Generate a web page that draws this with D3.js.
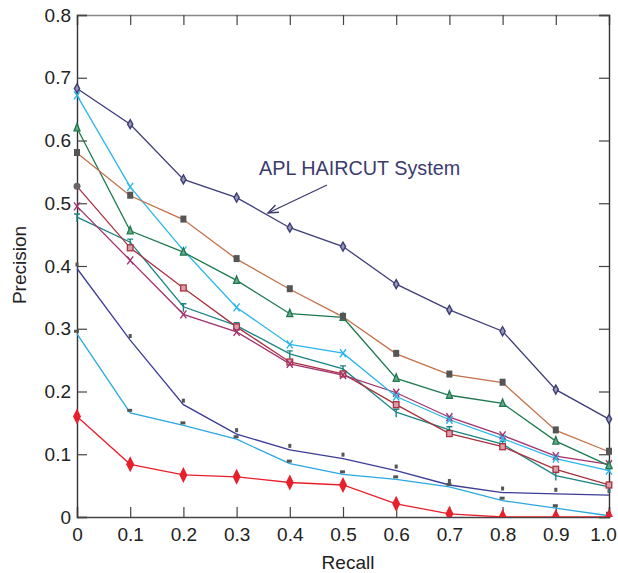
<!DOCTYPE html>
<html>
<head>
<meta charset="utf-8">
<script src="https://cdn.jsdelivr.net/npm/d3@7"></script>
<style>
  body { margin: 0; background: #fff; }
  svg { display: block; font-family: "Liberation Sans", Arial, sans-serif; }
</style>
</head>
<body>
<div id="graph"></div>
<script>
const width = 618;
const height = 573;
const margin = {top: 15, right: 9, bottom: 56, left: 77};

// recall levels on the x axis
const recall = [0, 0.1, 0.2, 0.3, 0.4, 0.5, 0.6, 0.7, 0.8, 0.9, 1.0];
const xTicks = [0, 0.1, 0.2, 0.3, 0.4, 0.5, 0.6, 0.7, 0.8, 0.9, 1.0];
const yTicks = [0, 0.1, 0.2, 0.3, 0.4, 0.5, 0.6, 0.7, 0.8];

// precision per system
const apl     = [0.683, 0.626, 0.538, 0.509, 0.461, 0.431, 0.371, 0.330, 0.296, 0.203, 0.156];
const brown   = [0.580, 0.512, 0.474, 0.411, 0.363, 0.319, 0.260, 0.227, 0.214, 0.138, 0.104];
const green   = [0.620, 0.456, 0.422, 0.377, 0.324, 0.318, 0.221, 0.194, 0.181, 0.121, 0.082];
const cyan    = [0.672, 0.526, 0.425, 0.334, 0.275, 0.261, 0.192, 0.155, 0.125, 0.093, 0.074];
const maroon  = [0.527, 0.429, 0.365, 0.303, 0.247, 0.228, 0.179, 0.133, 0.112, 0.076, 0.051];
const magenta = [0.495, 0.409, 0.323, 0.295, 0.244, 0.226, 0.198, 0.159, 0.130, 0.097, 0.084];
const teal    = [0.478, 0.438, 0.335, 0.305, 0.260, 0.236, 0.167, 0.139, 0.116, 0.066, 0.048];
const indigo  = [0.396, 0.282, 0.179, 0.132, 0.107, 0.093, 0.074, 0.051, 0.039, 0.037, 0.035];
const sky     = [0.292, 0.166, 0.146, 0.124, 0.085, 0.068, 0.060, 0.048, 0.026, 0.014, 0.002];
const red     = [0.160, 0.084, 0.067, 0.064, 0.055, 0.051, 0.021, 0.005, 0.000, 0.000, 0.000];

// drawing order + style (kept apart from the values)
const series = [
  {values: sky,     color: "#2aa8e0", marker: "dash"},
  {values: indigo,  color: "#3c3c98", marker: "tick"},
  {values: red,     color: "#e8202c", marker: "bigdiamond"},
  {values: teal,    color: "#1a8484", marker: "plus"},
  {values: maroon,  color: "#a83240", marker: "osquare"},
  {values: magenta, color: "#a3306e", marker: "x"},
  {values: cyan,    color: "#29b6ec", marker: "x"},
  {values: green,   color: "#1d7a4e", marker: "triangle"},
  {values: brown,   color: "#c2714a", marker: "gsquare"},
  {values: apl,     color: "#3d3d78", marker: "diamond"}
];

const w = width - margin.left - margin.right;
const h = height - margin.top - margin.bottom;

const x = d3.scaleLinear().domain([0, 1]).range([0, w]);
const y = d3.scaleLinear().domain([0, 0.8]).range([h, 0]);

const svg = d3.select("#graph").append("svg")
  .attr("width", width)
  .attr("height", height);

const g = svg.append("g").attr("transform", `translate(${margin.left},${margin.top})`);

g.append("clipPath").attr("id", "clip")
  .append("rect").attr("x", -20).attr("y", -20).attr("width", w + 40).attr("height", h + 20);

const fmt = d => d === 0 ? "0" : d3.format(".1f")(d);

// frame + inward ticks
const axisColor = "#333";
const xAxis = g.append("g").attr("transform", `translate(0,${h})`)
  .call(d3.axisBottom(x).tickValues(xTicks).tickFormat(fmt).tickSize(-10).tickPadding(11))
  .call(a => a.select(".domain").attr("stroke", "#444").attr("stroke-width", 1.4));
g.append("g")
  .call(d3.axisTop(x).tickValues(xTicks).tickFormat("").tickSize(-10))
  .call(a => a.select(".domain").attr("stroke", "#888").attr("stroke-width", 1.4));
g.append("g")
  .call(d3.axisLeft(y).tickValues(yTicks).tickFormat(fmt).tickSize(-10).tickPadding(6))
  .call(a => a.select(".domain").attr("stroke", axisColor).attr("stroke-width", 1.4));
g.append("g").attr("transform", `translate(${w},0)`)
  .call(d3.axisRight(y).tickValues(yTicks).tickFormat("").tickSize(-10))
  .call(a => a.select(".domain").attr("stroke", axisColor).attr("stroke-width", 1.4));

g.selectAll(".tick line").attr("stroke", "#444").attr("stroke-width", 1.2);
g.selectAll(".tick text").attr("font-size", 19).attr("fill", "#222")
  .attr("font-family", "'Liberation Sans', Arial, sans-serif");

// last x label sits against the page edge
xAxis.selectAll(".tick text").filter(d => d === 1).attr("dx", -6);

// lines
const line = d3.line().x((d, i) => x(recall[i])).y(d => y(d));
const plot = g.append("g").attr("clip-path", "url(#clip)");

series.forEach(s => {
  plot.append("path")
    .datum(s.values)
    .attr("fill", "none")
    .attr("stroke", s.color)
    .attr("stroke-width", 1.3)
    .attr("d", line);
});

// markers
function drawMarker(sel, type, color) {
  switch (type) {
    case "diamond":
      sel.append("path").attr("d", "M0,-4.5L2.6,0L0,4.5L-2.6,0Z")
        .attr("fill", "#9a9ab8").attr("stroke", color).attr("stroke-width", 1.4);
      break;
    case "gsquare":
      sel.append("rect").attr("x", -3).attr("y", -4).attr("width", 6).attr("height", 7).attr("fill", "#555");
      break;
    case "triangle":
      sel.append("path").attr("d", "M0,-4.5L3,3L-3,3Z")
        .attr("fill", "#6aa888").attr("stroke", color).attr("stroke-width", 1.3);
      break;
    case "x":
      sel.append("path").attr("d", "M-3,-4L3,4M3,-4L-3,4")
        .attr("stroke", color).attr("stroke-width", 1.4).attr("fill", "none");
      break;
    case "osquare":
      sel.append("rect").attr("x", -2.8).attr("y", -3).attr("width", 5.6).attr("height", 6)
        .attr("fill", "#d9a0a8").attr("stroke", color).attr("stroke-width", 1.3);
      break;
    case "plus":
      sel.append("path").attr("d", "M-3,-3L3,-3M0,-3L0,5")
        .attr("stroke", color).attr("stroke-width", 1.4).attr("fill", "none");
      break;
    case "tick":
      sel.append("rect").attr("x", -1.5).attr("y", -6).attr("width", 3).attr("height", 4).attr("fill", "#555");
      break;
    case "dash":
      sel.append("rect").attr("x", -3).attr("y", -4).attr("width", 5).attr("height", 3).attr("fill", "#555");
      break;
    case "bigdiamond":
      sel.append("path").attr("d", "M0,-8L4,0L0,8L-4,0Z").attr("fill", color);
      break;
  }
}

const markerLayer = g.append("g").attr("clip-path", "url(#clip)");
series.forEach(s => {
  s.values.forEach((v, i) => {
    const m = markerLayer.append("g").attr("transform", `translate(${x(recall[i])},${y(v)})`);
    let type = s.marker;
    if (i === 0 && s.values === maroon) type = "gcircle";
    if (type === "gcircle") {
      m.append("circle").attr("r", 3.5).attr("fill", "#666");
    } else {
      drawMarker(m, type, s.color);
    }
  });
});

// annotation
const annColor = "#3b3b6e";
svg.append("text")
  .attr("x", 259).attr("y", 175)
  .attr("font-size", 19.8)
  .attr("fill", annColor)
  .text("APL HAIRCUT System");

const ax0 = 327, ay0 = 185, ax1 = 268, ay1 = 213;
svg.append("line")
  .attr("x1", ax0).attr("y1", ay0).attr("x2", ax1).attr("y2", ay1)
  .attr("stroke", annColor).attr("stroke-width", 1.3);
const ang = Math.atan2(ay1 - ay0, ax1 - ax0);
const hl = 11, spread = 0.38;
svg.append("path")
  .attr("d", `M${ax1 - hl * Math.cos(ang - spread)},${ay1 - hl * Math.sin(ang - spread)}L${ax1},${ay1}L${ax1 - hl * Math.cos(ang + spread)},${ay1 - hl * Math.sin(ang + spread)}`)
  .attr("fill", "none").attr("stroke", annColor).attr("stroke-width", 1.4);

// axis titles
svg.append("text")
  .attr("x", 348).attr("y", 569)
  .attr("text-anchor", "middle")
  .attr("font-size", 19)
  .attr("fill", "#222")
  .text("Recall");

svg.append("text")
  .attr("transform", "translate(26,265) rotate(-90)")
  .attr("text-anchor", "middle")
  .attr("font-size", 19)
  .attr("fill", "#222")
  .text("Precision");
</script>
</body>
</html>
